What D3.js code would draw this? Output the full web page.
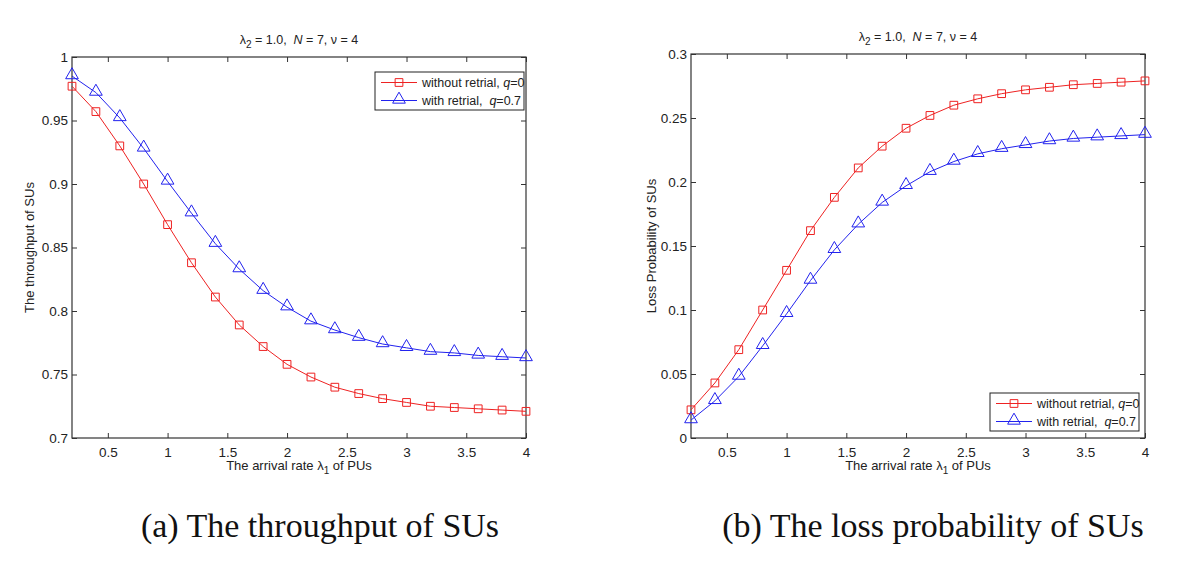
<!DOCTYPE html>
<html>
<head>
<meta charset="utf-8">
<script src="https://cdn.jsdelivr.net/npm/d3@7"></script>
<style>
  body { margin: 0; background: #fff; }
  svg { display: block; }
  text { font-family: "Liberation Sans", Arial, sans-serif; fill: #222; white-space: pre; }
  .caption { font-family: "Liberation Serif", "Times New Roman", serif; fill: #111; }
</style>
</head>
<body>
<svg width="1200" height="568"></svg>
<script>
var arrivalRate = [0.2, 0.4, 0.6, 0.8, 1.0, 1.2, 1.4, 1.6, 1.8, 2.0, 2.2, 2.4, 2.6, 2.8, 3.0, 3.2, 3.4, 3.6, 3.8, 4.0];

var throughputNoRetrial = [0.977, 0.957, 0.930, 0.900, 0.868, 0.838, 0.811, 0.789, 0.772, 0.758,
                           0.748, 0.740, 0.735, 0.731, 0.728, 0.725, 0.724, 0.723, 0.722, 0.721];
var throughputRetrial = [0.985, 0.972, 0.952, 0.928, 0.902, 0.877, 0.853, 0.833, 0.816, 0.803,
                         0.792, 0.785, 0.779, 0.774, 0.771, 0.768, 0.767, 0.765, 0.764, 0.763];

var lossNoRetrial = [0.022, 0.043, 0.069, 0.100, 0.131, 0.162, 0.188, 0.211, 0.228, 0.242,
                     0.252, 0.260, 0.265, 0.269, 0.272, 0.274, 0.276, 0.277, 0.278, 0.279];
var lossRetrial = [0.014, 0.029, 0.048, 0.072, 0.097, 0.123, 0.147, 0.167, 0.184, 0.197,
                   0.208, 0.216, 0.222, 0.226, 0.229, 0.232, 0.234, 0.235, 0.236, 0.237];

var xTicks = [0.5, 1, 1.5, 2, 2.5, 3, 3.5, 4];
var throughputTicks = [0.7, 0.75, 0.8, 0.85, 0.9, 0.95, 1];
var lossTicks = [0, 0.05, 0.1, 0.15, 0.2, 0.25, 0.3];

var seriesNames = ["without retrial, ", "with retrial,  "];
var seriesQ = ["0", "0.7"];
var red = "#ee2222", blue = "#2222ee";

var svg = d3.select("svg");

function drawPanel(opts) {
    var x = d3.scaleLinear().domain([0.2, 4]).range([opts.left, opts.right]);
    var y = d3.scaleLinear().domain(opts.yDomain).range([opts.bottom, opts.top]);
    var g = svg.append("g");
    var tl = 5;

    // ticks on all four sides, pointing in
    g.append("g").attr("transform", "translate(0," + opts.bottom + ")")
        .call(d3.axisBottom(x).tickValues(xTicks).tickSize(-tl).tickPadding(9).tickFormat(d3.format("")));
    g.append("g").attr("transform", "translate(0," + opts.top + ")")
        .call(d3.axisTop(x).tickValues(xTicks).tickSize(-tl).tickFormat(""));
    g.append("g").attr("transform", "translate(" + opts.left + ",0)")
        .call(d3.axisLeft(y).tickValues(opts.yTicks).tickSize(-tl).tickPadding(4).tickFormat(d3.format("")));
    g.append("g").attr("transform", "translate(" + opts.right + ",0)")
        .call(d3.axisRight(y).tickValues(opts.yTicks).tickSize(-tl).tickFormat(""));

    g.selectAll(".domain").remove();
    g.selectAll(".tick line").attr("stroke", "#333");
    g.selectAll(".tick text").attr("font-size", 13.5).attr("fill", "#222")
        .attr("font-family", "Liberation Sans, Arial, sans-serif");

    g.append("rect")
        .attr("x", opts.left).attr("y", opts.top)
        .attr("width", opts.right - opts.left).attr("height", opts.bottom - opts.top)
        .attr("fill", "none").attr("stroke", "#333").attr("stroke-width", 1.2);

    var line = d3.line().x(function(d) { return x(d[0]); }).y(function(d) { return y(d[1]); });
    var sets = [
        { vals: opts.series[0], color: red, sym: d3.symbolSquare, size: 60 },
        { vals: opts.series[1], color: blue, sym: d3.symbolTriangle, size: 70 }
    ];
    sets.forEach(function(s) {
        var pts = arrivalRate.map(function(v, i) { return [v, s.vals[i]]; });
        g.append("path").datum(pts).attr("d", line)
            .attr("fill", "none").attr("stroke", s.color).attr("stroke-width", 1);
        g.selectAll(null).data(pts).enter().append("path")
            .attr("d", d3.symbol().type(s.sym).size(s.size))
            .attr("transform", function(d) { return "translate(" + x(d[0]) + "," + (y(d[1]) + (s.sym === d3.symbolTriangle ? -1 : 0)) + ")"; })
            .attr("fill", "none").attr("stroke", s.color).attr("stroke-width", 1);
    });

    // title
    var cx = (opts.left + opts.right) / 2;
    var t = g.append("text").attr("x", cx).attr("y", opts.top - 13)
        .attr("text-anchor", "middle").attr("font-size", 12.5);
    t.append("tspan").text("\u03bb");
    t.append("tspan").attr("font-size", 10).attr("dy", 4).text("2");
    t.append("tspan").attr("dy", -4).text(" = 1.0,  ");
    t.append("tspan").attr("font-style", "italic").text("N");
    t.append("tspan").text(" = 7, \u03bd = 4");

    // x label
    var xl = g.append("text").attr("x", cx).attr("y", opts.bottom + 32)
        .attr("text-anchor", "middle").attr("font-size", 13);
    xl.append("tspan").text("The arrival rate \u03bb");
    xl.append("tspan").attr("font-size", 10).attr("dy", 4).text("1");
    xl.append("tspan").attr("dy", -4).text(" of PUs");

    // y label
    g.append("text")
        .attr("transform", "translate(" + opts.yLabelX + "," + ((opts.top + opts.bottom) / 2) + ") rotate(-90)")
        .attr("text-anchor", "middle").attr("font-size", 13)
        .text(opts.yLabel);

    // legend
    var lg = g.append("g").attr("transform", "translate(" + opts.legend[0] + "," + opts.legend[1] + ")");
    lg.append("rect").attr("width", 149).attr("height", 38)
        .attr("fill", "#fff").attr("stroke", "#222").attr("stroke-width", 1);
    sets.forEach(function(s, i) {
        var ly = 10.5 + i * 18;
        lg.append("line").attr("x1", 6).attr("x2", 42).attr("y1", ly).attr("y2", ly)
            .attr("stroke", s.color).attr("stroke-width", 1);
        lg.append("path").attr("d", d3.symbol().type(s.sym).size(s.size))
            .attr("transform", "translate(24," + (ly + (i === 1 ? -1 : 0)) + ")")
            .attr("fill", "none").attr("stroke", s.color);
        var tx = lg.append("text").attr("x", 47).attr("y", ly + 4.5).attr("font-size", 12.5);
        tx.append("tspan").text(seriesNames[i]);
        tx.append("tspan").attr("font-style", "italic").text("q");
        tx.append("tspan").text("=" + seriesQ[i]);
    });

    svg.append("text").attr("class", "caption")
        .attr("x", opts.captionX).attr("y", 537)
        .attr("text-anchor", "middle").attr("font-size", 34)
        .text(opts.caption);
}

drawPanel({
    left: 72, right: 526, top: 57, bottom: 438,
    yDomain: [0.7, 1], yTicks: throughputTicks,
    series: [throughputNoRetrial, throughputRetrial],
    yLabel: "The throughput of SUs", yLabelX: 34,
    legend: [375, 72],
    caption: "(a) The throughput of SUs", captionX: 320
});

drawPanel({
    left: 691, right: 1145, top: 54, bottom: 438,
    yDomain: [0, 0.3], yTicks: lossTicks,
    series: [lossNoRetrial, lossRetrial],
    yLabel: "Loss Probability of SUs", yLabelX: 656,
    legend: [990, 393],
    caption: "(b) The loss probability of SUs", captionX: 933
});
</script>
</body>
</html>
